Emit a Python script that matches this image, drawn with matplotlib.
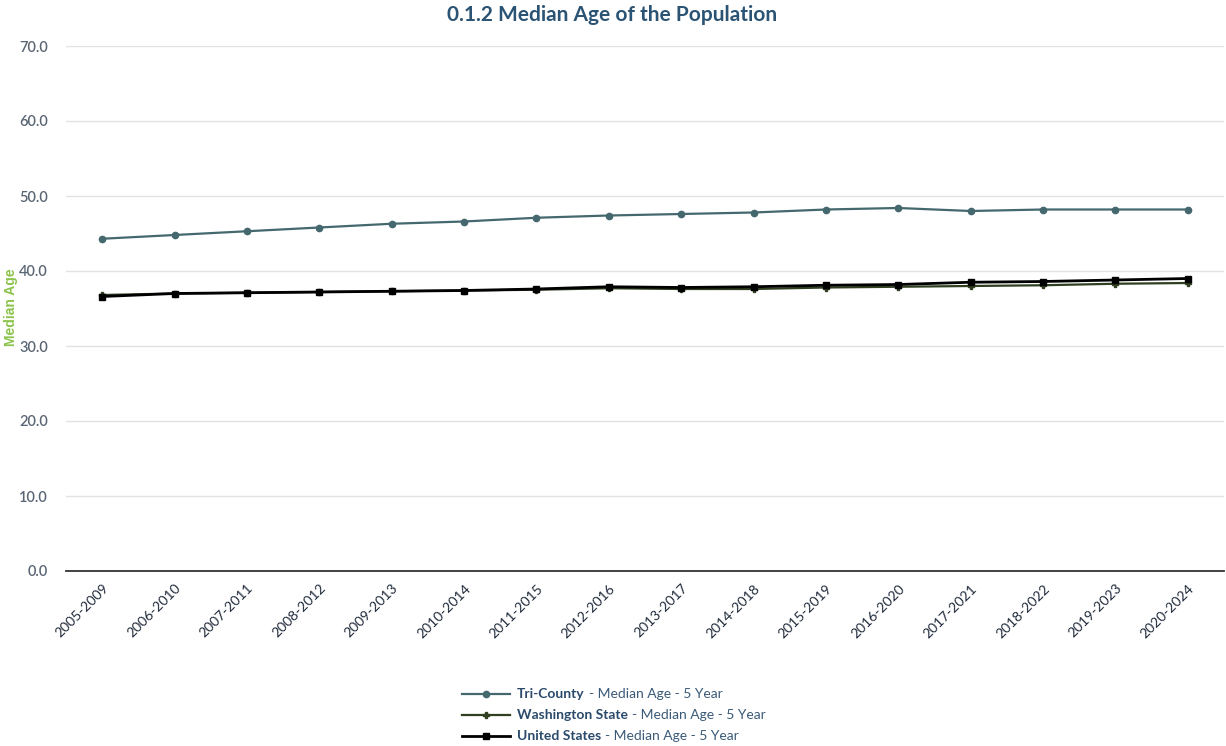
import matplotlib
matplotlib.use("Agg")
import matplotlib.pyplot as plt
from matplotlib.lines import Line2D

plt.rcParams["font.family"] = ["Lato", "DejaVu Sans"]

periods = ["2005-2009", "2006-2010", "2007-2011", "2008-2012", "2009-2013",
           "2010-2014", "2011-2015", "2012-2016", "2013-2017", "2014-2018",
           "2015-2019", "2016-2020", "2017-2021", "2018-2022", "2019-2023",
           "2020-2024"]
tri_county = [44.3, 44.8, 45.3, 45.8, 46.3, 46.6, 47.1, 47.4, 47.6, 47.8,
              48.2, 48.4, 48.0, 48.2, 48.2, 48.2]
washington = [36.8, 37.0, 37.1, 37.2, 37.3, 37.4, 37.5, 37.7, 37.6, 37.6,
              37.8, 37.9, 38.0, 38.1, 38.3, 38.4]
united_states = [36.6, 37.0, 37.1, 37.2, 37.3, 37.4, 37.6, 37.9, 37.8, 37.9,
                 38.1, 38.2, 38.5, 38.6, 38.8, 39.0]
yticks = [0, 10, 20, 30, 40, 50, 60, 70]

series = [
    ("Tri-County", tri_county, "#44686e", "o", 4.5, 1.6),
    ("Washington State", washington, "#2f3f1f", "P", 4, 1.6),
    ("United States", united_states, "#000000", "s", 5, 2.0),
]

fig = plt.figure(figsize=(12.26, 7.46), dpi=100)
ax = fig.add_axes([66 / 1226, 1 - 571 / 746, (1224 - 66) / 1226, (571 - 46) / 746])

x = list(range(len(periods)))
for name, vals, color, marker, ms, lw in series:
    ax.plot(x, vals, color=color, marker=marker, markersize=ms, linewidth=lw)

ax.set_xlim(-0.5, len(periods) - 0.5)
ax.set_ylim(0, 70)
ax.set_yticks(yticks)
ax.set_yticklabels([f"{v:.1f}" for v in yticks], color="#5b6675",
                   fontsize=10.5, fontweight="semibold")
ax.set_xticks(x)
ax.set_xticklabels(periods, rotation=45, ha="right", rotation_mode="anchor",
                   fontsize=10, color="#1f2a3a")
ax.tick_params(axis="both", length=0, pad=13)
ax.tick_params(axis="x", pad=8)
ax.grid(axis="y", color="#e3e3e3", linewidth=1)
ax.set_axisbelow(True)
for s in ["top", "right", "left"]:
    ax.spines[s].set_visible(False)
ax.spines["bottom"].set_color("#333333")
ax.spines["bottom"].set_linewidth(1.3)

fig.text(0.009, 1 - 307 / 746, "Median Age", rotation=90, color="#8bc34a",
         fontsize=10, fontweight="bold", family=["Liberation Sans", "DejaVu Sans"],
         ha="center", va="center")

fig.text(612 / 1226, 1 - 15 / 746, "0.1.2 Median Age of the Population",
         ha="center", va="center", fontsize=15, fontweight="bold", color="#2b5373")

# legend drawn by hand so the series name can be bold
renderer = fig.canvas.get_renderer()
rows_y = [694, 715, 736]
for (name, vals, color, marker, ms, lw), ry in zip(series, rows_y):
    yf = 1 - ry / 746
    fig.add_artist(Line2D([462 / 1226, 510 / 1226], [yf, yf], color=color,
                          linewidth=lw, transform=fig.transFigure))
    fig.add_artist(Line2D([486 / 1226], [yf], color=color, marker=marker,
                          markersize=ms, transform=fig.transFigure))
    t = fig.text(517 / 1226, yf, name, fontsize=10, fontweight="bold",
                 color="#2b4a6b", va="center")
    bb = t.get_window_extent(renderer)
    fig.text((bb.x1 + 4) / 1226, yf, "- Median Age - 5 Year", fontsize=10,
             color="#3a5a78", va="center")

fig.savefig("out.png", dpi=100)
